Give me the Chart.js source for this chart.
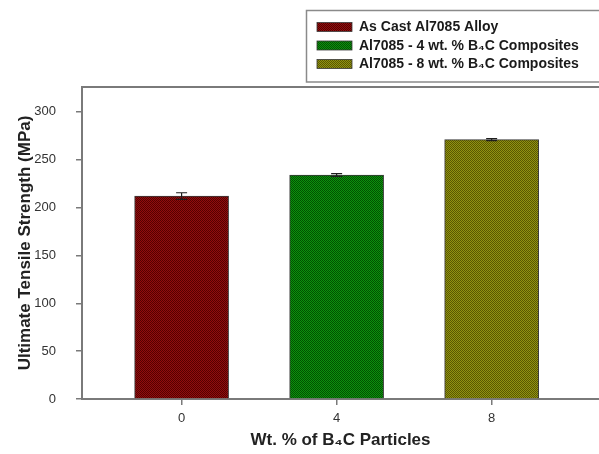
<!DOCTYPE html>
<html>
<head>
<meta charset="utf-8">
<script src="https://cdn.jsdelivr.net/npm/chart.js@4.4.0/dist/chart.umd.min.js"></script>
<style>
  html, body { margin: 0; padding: 0; background: #fff; }
  #wrap { width: 599px; height: 454px; }
</style>
</head>
<body>
<div id="wrap"><canvas id="utsChart" width="599" height="454"></canvas></div>
<script>
// B4C loading (wt. %) and measured UTS
const loadings = [0, 4, 8];
const seriesNames = [
  'As Cast Al7085 Alloy',
  'Al7085 - 4 wt. % B\u2084C Composites',
  'Al7085 - 8 wt. % B\u2084C Composites'
];
const strength = [212, 234, 271];     // MPa
const strengthErr = [3.5, 1.5, 1];    // +/- MPa
const yTicks = [0, 50, 100, 150, 200, 250, 300];

const baseColors = ['#900e0e', '#0e900e', '#929212'];
const dotColors  = ['#560000', '#005200', '#585800'];

const FONT = '"Liberation Sans", Arial, "DejaVu Sans", sans-serif';
const AXIS_GREY = '#7a7a7a';

// small checker texture like the plotting package's dotted fill
const makeDots = (base, dot) => {
  const c = document.createElement('canvas');
  c.width = 2; c.height = 2;
  const g = c.getContext('2d');
  g.fillStyle = base; g.fillRect(0, 0, 2, 2);
  g.fillStyle = dot; g.fillRect(0, 0, 1, 1); g.fillRect(1, 1, 1, 1);
  return g.createPattern(c, 'repeat');
};
const fills = baseColors.map((b, i) => makeDots(b, dotColors[i]));

// top edge of the plot frame
const frameTop = {
  id: 'frameTop',
  afterDraw(chart) {
    const { ctx, chartArea: a } = chart;
    ctx.save();
    ctx.strokeStyle = AXIS_GREY;
    ctx.lineWidth = 2;
    ctx.beginPath();
    ctx.moveTo(a.left - 1, a.top);
    ctx.lineTo(a.right, a.top);
    ctx.stroke();
    ctx.restore();
  }
};

// +/- error whiskers on each bar
const errorBars = {
  id: 'errorBars',
  afterDatasetsDraw(chart) {
    const { ctx } = chart;
    const yScale = chart.scales.y;
    ctx.save();
    ctx.strokeStyle = '#1e1e1e';
    ctx.lineWidth = 1.2;
    chart.data.datasets.forEach((ds, i) => {
      const bar = chart.getDatasetMeta(i).data[0];
      if (!bar) return;
      const hi = yScale.getPixelForValue(strength[i] + strengthErr[i]);
      const lo = yScale.getPixelForValue(strength[i] - strengthErr[i]);
      ctx.beginPath();
      ctx.moveTo(bar.x, hi); ctx.lineTo(bar.x, lo);
      ctx.moveTo(bar.x - 5.5, hi); ctx.lineTo(bar.x + 5.5, hi);
      ctx.moveTo(bar.x - 5.5, lo); ctx.lineTo(bar.x + 5.5, lo);
      ctx.stroke();
    });
    ctx.restore();
  }
};

// boxed legend in the upper right
const boxLegend = {
  id: 'boxLegend',
  afterDraw(chart) {
    const { ctx } = chart;
    ctx.save();
    ctx.strokeStyle = '#8a8a8a';
    ctx.lineWidth = 1.5;
    ctx.strokeRect(306.5, 10.5, 320, 71.5);
    ctx.font = `bold 14px ${FONT}`;
    ctx.textBaseline = 'middle';
    chart.data.datasets.forEach((ds, i) => {
      const cy = 27 + i * 18.5;
      ctx.fillStyle = ds.backgroundColor;
      ctx.fillRect(317, cy - 4.5, 35, 9);
      ctx.strokeStyle = '#3a3a3a';
      ctx.lineWidth = 0.8;
      ctx.strokeRect(317, cy - 4.5, 35, 9);
      ctx.fillStyle = '#1a1a1a';
      ctx.fillText(ds.label, 359, cy + 0.5);
    });
    ctx.restore();
  }
};

const datasets = seriesNames.map((name, i) => ({
  label: name,
  data: [{ x: loadings[i], y: strength[i] }],
  backgroundColor: fills[i],
  borderColor: '#3a3a3a',
  borderWidth: 1,
  barThickness: 94,
  grouped: false
}));

const axisGrid = {
  offset: false,
  drawOnChartArea: false,
  drawTicks: true,
  tickLength: 6,
  color: AXIS_GREY,
  lineWidth: 1.5
};

new Chart(document.getElementById('utsChart').getContext('2d'), {
  type: 'bar',
  data: { datasets },
  options: {
    responsive: false,
    animation: false,
    layout: { padding: { top: 87, right: 0, bottom: 0, left: 0 } },
    plugins: {
      legend: { display: false },
      tooltip: { enabled: false }
    },
    scales: {
      x: {
        type: 'linear',
        offset: false,
        min: -2.57,
        max: 10.77,
        afterBuildTicks: (s) => { s.ticks = loadings.map(v => ({ value: v })); },
        afterFit: (s) => { s.height = 55; },
        grid: axisGrid,
        border: { color: AXIS_GREY, width: 2 },
        ticks: { color: '#333', font: { family: FONT, size: 13 }, padding: 6, maxRotation: 0 },
        title: {
          display: true,
          text: 'Wt. % of B\u2084C Particles',
          color: '#222',
          font: { family: FONT, size: 17, weight: 'bold' },
          padding: { top: 0, bottom: 3 }
        }
      },
      y: {
        min: 0,
        max: 326,
        afterBuildTicks: (s) => { s.ticks = yTicks.map(v => ({ value: v })); },
        afterFit: (s) => { s.width = 82; },
        grid: axisGrid,
        border: { color: AXIS_GREY, width: 2 },
        ticks: { color: '#333', font: { family: FONT, size: 13 }, padding: 20 },
        title: {
          display: true,
          text: 'Ultimate Tensile Strength (MPa)',
          color: '#222',
          font: { family: FONT, size: 17, weight: 'bold' },
          padding: { top: 15, bottom: 0 }
        }
      }
    }
  },
  plugins: [frameTop, errorBars, boxLegend]
});
</script>
</body>
</html>
